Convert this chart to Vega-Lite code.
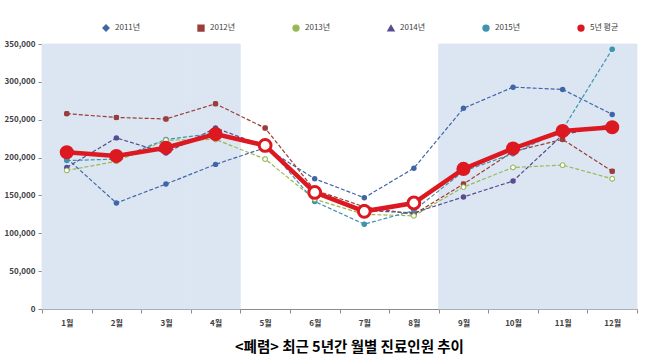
{
  "$schema": "https://vega.github.io/schema/vega-lite/v6.json",
  "width": 595,
  "height": 265,
  "autosize": {"type": "none"},
  "padding": {"left": 42, "top": 44, "right": 27, "bottom": 55},
  "background": "white",
  "config": {
    "view": {"stroke": null},
    "font": "Noto Sans CJK KR",
    "axis": {
      "labelFont": "Noto Sans CJK KR",
      "labelFontSize": 8,
      "labelFontWeight": "bold",
      "labelColor": "#404040",
      "domainColor": "#8c8c8c",
      "tickColor": "#8c8c8c",
      "grid": false,
      "title": null,
      "labelOverlap": false
    },
    "axisY": {"labelOverlap": false, "tickSize": 4, "labelPadding": 3, "format": ",d", "values": [0, 50000, 100000, 150000, 200000, 250000, 300000, 350000]},
    "legend": {
      "orient": "none",
      "legendX": 60,
      "legendY": -20,
      "direction": "horizontal",
      "title": null,
      "labelFont": "Noto Sans CJK KR",
      "labelFontSize": 8,
      "labelColor": "#404040",
      "symbolSize": 34,
      "symbolStrokeWidth": 1.5,
      "labelOffset": 5,
      "columnPadding": 54
    }
  },
  "title": {
    "text": "<폐렴> 최근 5년간 월별 진료인원 추이",
    "orient": "bottom",
    "font": "Noto Sans CJK KR",
    "fontSize": 14.5,
    "fontWeight": "bold",
    "color": "#000000",
    "offset": 14,
    "dx": 10
  },
  "data": {
    "values": [
      {"월": "1월", "n": 1, "series": "2011년", "value": 199000},
      {"월": "2월", "n": 2, "series": "2011년", "value": 140000},
      {"월": "3월", "n": 3, "series": "2011년", "value": 165000},
      {"월": "4월", "n": 4, "series": "2011년", "value": 191000},
      {"월": "5월", "n": 5, "series": "2011년", "value": 213000},
      {"월": "6월", "n": 6, "series": "2011년", "value": 172000},
      {"월": "7월", "n": 7, "series": "2011년", "value": 147000},
      {"월": "8월", "n": 8, "series": "2011년", "value": 186000},
      {"월": "9월", "n": 9, "series": "2011년", "value": 265000},
      {"월": "10월", "n": 10, "series": "2011년", "value": 293000},
      {"월": "11월", "n": 11, "series": "2011년", "value": 290000},
      {"월": "12월", "n": 12, "series": "2011년", "value": 257000},
      {"월": "1월", "n": 1, "series": "2012년", "value": 258000},
      {"월": "2월", "n": 2, "series": "2012년", "value": 253000},
      {"월": "3월", "n": 3, "series": "2012년", "value": 251000},
      {"월": "4월", "n": 4, "series": "2012년", "value": 271000},
      {"월": "5월", "n": 5, "series": "2012년", "value": 239000},
      {"월": "6월", "n": 6, "series": "2012년", "value": 157000},
      {"월": "7월", "n": 7, "series": "2012년", "value": 135000},
      {"월": "8월", "n": 8, "series": "2012년", "value": 125000},
      {"월": "9월", "n": 9, "series": "2012년", "value": 165000},
      {"월": "10월", "n": 10, "series": "2012년", "value": 208000},
      {"월": "11월", "n": 11, "series": "2012년", "value": 224000},
      {"월": "12월", "n": 12, "series": "2012년", "value": 182000},
      {"월": "1월", "n": 1, "series": "2013년", "value": 183000},
      {"월": "2월", "n": 2, "series": "2013년", "value": 195000},
      {"월": "3월", "n": 3, "series": "2013년", "value": 223000},
      {"월": "4월", "n": 4, "series": "2013년", "value": 224000},
      {"월": "5월", "n": 5, "series": "2013년", "value": 198000},
      {"월": "6월", "n": 6, "series": "2013년", "value": 145000},
      {"월": "7월", "n": 7, "series": "2013년", "value": 125000},
      {"월": "8월", "n": 8, "series": "2013년", "value": 123000},
      {"월": "9월", "n": 9, "series": "2013년", "value": 161000},
      {"월": "10월", "n": 10, "series": "2013년", "value": 187000},
      {"월": "11월", "n": 11, "series": "2013년", "value": 190000},
      {"월": "12월", "n": 12, "series": "2013년", "value": 172000},
      {"월": "1월", "n": 1, "series": "2014년", "value": 187000},
      {"월": "2월", "n": 2, "series": "2014년", "value": 226000},
      {"월": "3월", "n": 3, "series": "2014년", "value": 206000},
      {"월": "4월", "n": 4, "series": "2014년", "value": 239000},
      {"월": "5월", "n": 5, "series": "2014년", "value": 215000},
      {"월": "6월", "n": 6, "series": "2014년", "value": 152000},
      {"월": "7월", "n": 7, "series": "2014년", "value": 130000},
      {"월": "8월", "n": 8, "series": "2014년", "value": 127000},
      {"월": "9월", "n": 9, "series": "2014년", "value": 148000},
      {"월": "10월", "n": 10, "series": "2014년", "value": 169000},
      {"월": "11월", "n": 11, "series": "2014년", "value": 230000},
      {"월": "12월", "n": 12, "series": "2014년", "value": 244000},
      {"월": "1월", "n": 1, "series": "2015년", "value": 196000},
      {"월": "2월", "n": 2, "series": "2015년", "value": 198000},
      {"월": "3월", "n": 3, "series": "2015년", "value": 224000},
      {"월": "4월", "n": 4, "series": "2015년", "value": 232000},
      {"월": "5월", "n": 5, "series": "2015년", "value": 218000},
      {"월": "6월", "n": 6, "series": "2015년", "value": 142000},
      {"월": "7월", "n": 7, "series": "2015년", "value": 112000},
      {"월": "8월", "n": 8, "series": "2015년", "value": 130000},
      {"월": "9월", "n": 9, "series": "2015년", "value": 182000},
      {"월": "10월", "n": 10, "series": "2015년", "value": 205000},
      {"월": "11월", "n": 11, "series": "2015년", "value": 237000},
      {"월": "12월", "n": 12, "series": "2015년", "value": 343000},
      {"월": "1월", "n": 1, "series": "5년 평균", "value": 207000},
      {"월": "2월", "n": 2, "series": "5년 평균", "value": 202000},
      {"월": "3월", "n": 3, "series": "5년 평균", "value": 213000},
      {"월": "4월", "n": 4, "series": "5년 평균", "value": 231000},
      {"월": "5월", "n": 5, "series": "5년 평균", "value": 216000},
      {"월": "6월", "n": 6, "series": "5년 평균", "value": 154000},
      {"월": "7월", "n": 7, "series": "5년 평균", "value": 129000},
      {"월": "8월", "n": 8, "series": "5년 평균", "value": 140000},
      {"월": "9월", "n": 9, "series": "5년 평균", "value": 185000},
      {"월": "10월", "n": 10, "series": "5년 평균", "value": 212000},
      {"월": "11월", "n": 11, "series": "5년 평균", "value": 235000},
      {"월": "12월", "n": 12, "series": "5년 평균", "value": 240000}
    ]
  },
  "encoding": {
    "x": {
      "field": "월",
      "type": "ordinal",
      "sort": ["1월", "2월", "3월", "4월", "5월", "6월", "7월", "8월", "9월", "10월", "11월", "12월"],
      "scale": {"paddingInner": 0, "paddingOuter": 0},
      "axis": {"labelAngle": 0, "tickBand": "extent", "tickSize": 4, "labelPadding": 6}
    },
    "color": {
      "field": "series",
      "type": "nominal",
      "scale": {
        "domain": ["2011년", "2012년", "2013년", "2014년", "2015년", "5년 평균"],
        "range": ["#4166a8", "#9a3d3b", "#98b857", "#584c8e", "#3f93b0", "#dc1820"]
      }
    },
    "shape": {
      "field": "series",
      "type": "nominal",
      "scale": {
        "domain": ["2011년", "2012년", "2013년", "2014년", "2015년", "5년 평균"],
        "range": ["diamond", "square", "circle", "triangle-up", "circle", "circle"]
      }
    }
  },
  "layer": [
    {
      "transform": [{"filter": "datum.series === '5년 평균' && (datum.n <= 4 || datum.n >= 9)"}],
      "mark": {"type": "bar", "fill": "#dce6f2", "stroke": "#dce6f2", "strokeWidth": 0.8},
      "encoding": {
        "color": {"value": "#dce6f2"},
        "shape": {"value": "square"},
        "y": {"datum": 350000, "type": "quantitative", "scale": {"domain": [0, 350000]}}
      }
    },
    {
      "transform": [{"filter": "datum.series !== '5년 평균'"}],
      "mark": {"type": "line", "strokeDash": [4, 2], "strokeWidth": 1.2},
      "encoding": {
        "y": {"field": "value", "type": "quantitative"},
        "shape": {"value": "circle"},
        "detail": {"field": "series"}
      }
    },
    {
      "transform": [{"filter": "datum.series !== '5년 평균' && datum.series !== '2013년'"}],
      "mark": {"type": "point", "filled": true, "size": 22, "opacity": 1},
      "encoding": {"y": {"field": "value", "type": "quantitative"}}
    },
    {
      "transform": [{"filter": "datum.series === '2013년'"}],
      "mark": {"type": "point", "filled": false, "fill": "white", "size": 22, "strokeWidth": 1, "opacity": 1},
      "encoding": {"y": {"field": "value", "type": "quantitative"}}
    },
    {
      "transform": [{"filter": "datum.series === '5년 평균'"}],
      "mark": {"type": "line", "strokeWidth": 4.5},
      "encoding": {
        "y": {"field": "value", "type": "quantitative"},
        "shape": {"value": "circle"}
      }
    },
    {
      "transform": [{"filter": "datum.series === '5년 평균' && (datum.n <= 4 || datum.n >= 9)"}],
      "mark": {"type": "point", "filled": true, "size": 200, "opacity": 1},
      "encoding": {"y": {"field": "value", "type": "quantitative"}}
    },
    {
      "transform": [{"filter": "datum.series === '5년 평균' && datum.n >= 5 && datum.n <= 8"}],
      "mark": {"type": "point", "filled": false, "fill": "white", "size": 140, "strokeWidth": 3, "opacity": 1},
      "encoding": {"y": {"field": "value", "type": "quantitative"}}
    }
  ]
}
